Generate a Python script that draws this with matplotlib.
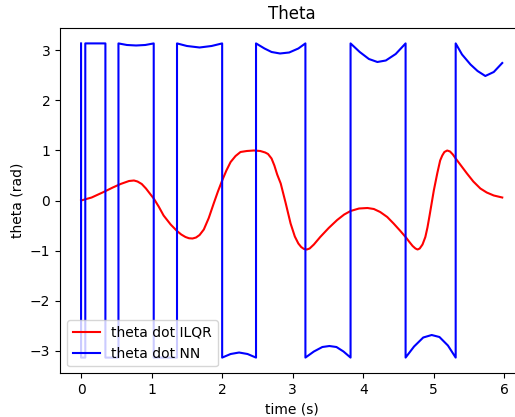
import numpy as np
import matplotlib
matplotlib.use("Agg")
import matplotlib.pyplot as plt

PI = 3.14159

# theta of ILQR
ilqr_time = [0.00, 0.15, 0.32, 0.45, 0.56, 0.62, 0.68, 0.75, 0.80, 0.86,
             0.92, 0.98, 1.03, 1.10, 1.17, 1.27, 1.36, 1.42, 1.48, 1.53,
             1.58, 1.63, 1.68, 1.74, 1.81, 1.88, 1.94, 2.00, 2.06, 2.12,
             2.19, 2.26, 2.35, 2.45, 2.54, 2.61, 2.65, 2.70, 2.74, 2.78,
             2.83, 2.90, 2.97, 3.03, 3.08, 3.12, 3.16, 3.20, 3.24, 3.30,
             3.39, 3.51, 3.63, 3.73, 3.82, 3.94, 4.06, 4.15, 4.24, 4.34,
             4.43, 4.52, 4.60, 4.66, 4.70, 4.74, 4.77, 4.80, 4.84, 4.88,
             4.91, 4.94, 4.97, 5.00, 5.05, 5.09, 5.12, 5.15, 5.19, 5.23,
             5.27, 5.31, 5.39, 5.47, 5.56, 5.66, 5.75, 5.85, 5.97]
ilqr_theta = [0.00, 0.06, 0.17, 0.26, 0.33, 0.36, 0.39, 0.40, 0.38, 0.33,
              0.24, 0.13, 0.04, -0.12, -0.30, -0.48, -0.61, -0.68, -0.73, -0.755,
              -0.76, -0.74, -0.69, -0.58, -0.35, -0.06, 0.18, 0.40, 0.60, 0.77,
              0.89, 0.97, 0.99, 1.00, 0.99, 0.96, 0.93, 0.84, 0.70, 0.52,
              0.34, -0.05, -0.46, -0.72, -0.86, -0.93, -0.97, -0.98, -0.96, -0.88,
              -0.73, -0.55, -0.39, -0.28, -0.21, -0.16, -0.15, -0.17, -0.23, -0.33,
              -0.46, -0.60, -0.73, -0.84, -0.91, -0.96, -0.98, -0.96, -0.88, -0.73,
              -0.54, -0.30, -0.05, 0.20, 0.55, 0.80, 0.90, 0.97, 1.00, 0.98,
              0.92, 0.84, 0.69, 0.54, 0.38, 0.24, 0.16, 0.10, 0.06]

# theta of NN (wrapped angle)
nn_time = [0.00, 0.00, 0.06, 0.06, 0.345, 0.345, 0.53, 0.53, 0.65, 0.78, 0.91, 1.03,
           1.03, 1.36, 1.36, 1.50, 1.68, 1.85, 2.00,
           2.00, 2.12, 2.24, 2.36, 2.48,
           2.48, 2.60, 2.70, 2.82, 2.95, 3.08, 3.18,
           3.18, 3.30, 3.42, 3.52, 3.62, 3.72, 3.82,
           3.82, 3.95, 4.08, 4.20, 4.32, 4.46, 4.60,
           4.60, 4.72, 4.85, 4.97, 5.08, 5.20, 5.31,
           5.31, 5.40, 5.52, 5.62, 5.73, 5.85, 5.97]
nn_theta = [PI, -PI, -PI, PI, PI, -PI, -PI, PI, 3.11, 3.10, 3.11, PI,
            -PI, -PI, PI, 3.09, 3.06, 3.09, PI,
            -PI, -3.07, -3.04, -3.07, -PI,
            PI, 3.04, 2.97, 2.94, 2.96, 3.04, PI,
            -PI, -3.02, -2.93, -2.91, -2.93, -3.02, -PI,
            PI, 2.97, 2.83, 2.77, 2.80, 2.93, PI,
            -PI, -2.92, -2.74, -2.69, -2.73, -2.90, -PI,
            PI, 2.92, 2.72, 2.59, 2.49, 2.57, 2.75]

fig = plt.figure(figsize=(5.15, 4.17), dpi=100)
ax = fig.add_axes([60 / 515, 1 - 373.3 / 417, 463.3 / 515, (373.3 - 27.7) / 417])
ax.plot(ilqr_time, ilqr_theta, color="red", label="theta dot ILQR")
ax.plot(nn_time, nn_theta, color="blue", label="theta dot NN")
ax.set_title("Theta")
ax.set_xlabel("time (s)")
ax.set_ylabel("theta (rad)")
ax.legend(loc="lower left")
fig.savefig("out.png", dpi=100)
